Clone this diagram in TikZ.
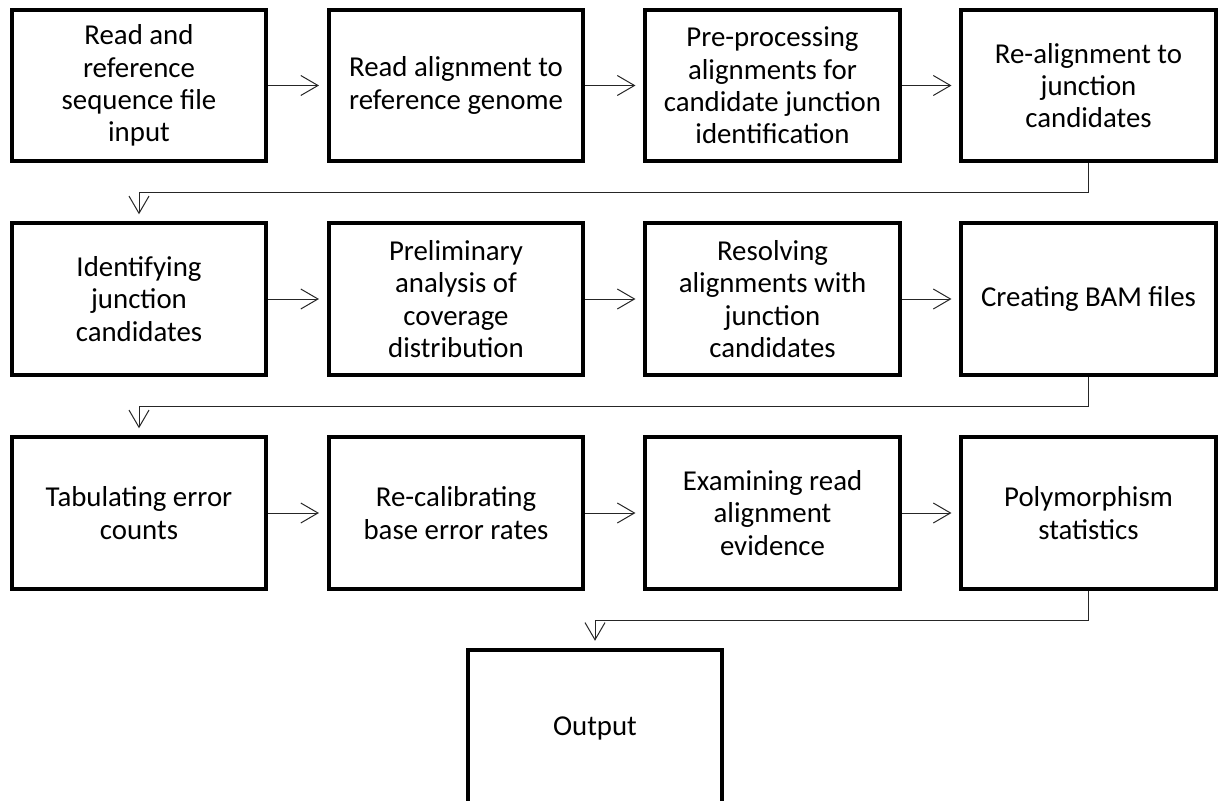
\documentclass[tikz,border=0pt]{standalone}
\usepackage{fontspec}
\setmainfont{Carlito}
\usetikzlibrary{arrows.meta}

\begin{document}
\begin{tikzpicture}[x=0.025cm, y=-0.025cm,
	stepbox/.style={draw=black, line width=0.1cm, fill=white, minimum width=6.35cm, minimum height=3.775cm, align=center, inner sep=0pt, font=\fontsize{20.5}{23}\selectfont},
	conn/.style={line width=0.025cm, draw=black!85, -{Straight Barb[length=0.43cm, width=0.5cm, line width=0.025cm]}}]
			%%%%% START %%%%%
			\useasboundingbox (0, 0) rectangle (1218, 801);

			% first row
			\node[stepbox] (readin) at (139, 85.5) {Read and\\reference\\sequence file\\input};
			\node[stepbox] (align) at (456, 85.5) {Read alignment to\\reference genome};
			\node[stepbox] (preproc) at (772.5, 85.5) {Pre-processing\\alignments for\\candidate junction\\identification};
			\node[stepbox] (realign) at (1088.5, 85.5) {Re-alignment to\\junction\\candidates};

			% second row
			\node[stepbox] (identify) at (139, 299) {Identifying\\junction\\candidates};
			\node[stepbox] (prelim) at (456, 299) {Preliminary\\analysis of\\coverage\\distribution};
			\node[stepbox] (resolve) at (772.5, 299) {Resolving\\alignments with\\junction\\candidates};
			\node[stepbox] (bamfiles) at (1088.5, 299) {Creating BAM files};

			% third row
			\node[stepbox] (tabulate) at (139, 513) {Tabulating error\\counts};
			\node[stepbox] (recal) at (456, 513) {Re-calibrating\\base error rates};
			\node[stepbox] (examine) at (772.5, 513) {Examining read\\alignment\\evidence};
			\node[stepbox] (polymorph) at (1088.5, 513) {Polymorphism\\statistics};

			\node[stepbox, minimum height=3.9cm] (output) at (595, 728) {Output};

			\draw[conn, shorten >=0.2cm] (readin) -- (align);
			\draw[conn, shorten >=0.2cm] (align) -- (preproc);
			\draw[conn, shorten >=0.2cm] (preproc) -- (realign);
			\draw[conn, shorten >=0.18cm] (realign.south) -- ++(0, 29) -| (identify.north);

			\draw[conn, shorten >=0.2cm] (identify) -- (prelim);
			\draw[conn, shorten >=0.2cm] (prelim) -- (resolve);
			\draw[conn, shorten >=0.2cm] (resolve) -- (bamfiles);
			\draw[conn, shorten >=0.18cm] (bamfiles.south) -- ++(0, 30) -| (tabulate.north);

			\draw[conn, shorten >=0.2cm] (tabulate) -- (recal);
			\draw[conn, shorten >=0.2cm] (recal) -- (examine);
			\draw[conn, shorten >=0.2cm] (examine) -- (polymorph);
			\draw[conn, shorten >=0.18cm] (polymorph.south) -- ++(0, 30) -| (output.north);

			%%%%% END %%%%%
		\end{tikzpicture}
\end{document}
